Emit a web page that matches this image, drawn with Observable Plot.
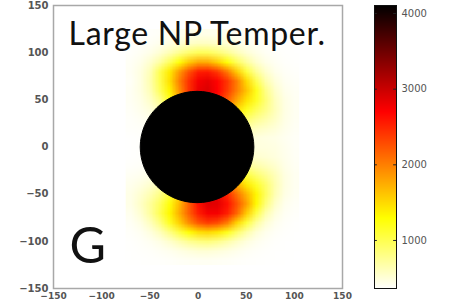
<!DOCTYPE html>
<html><head><meta charset="utf-8">
<script src="https://cdn.jsdelivr.net/npm/d3@7"></script>
<script src="https://cdn.jsdelivr.net/npm/@observablehq/plot@0.6"></script>
<style>
html,body{margin:0;padding:0;background:#fff;width:458px;height:302px;overflow:hidden;}
#wrap{position:relative;width:458px;height:302px;}
#main{position:absolute;left:0;top:0;}
#bar{position:absolute;left:360px;top:0;}
</style></head><body><div id="wrap"><div id="main"></div><div id="bar"></div></div>
<script>
// axis ticks
const axisTicks = [-150, -100, -50, 0, 50, 100, 150];
const colorTicks = [1000, 2000, 3000, 4000];
// sample grid (centres, data units)
const gridX = [-70, -60, -50, -40, -30, -20, -10, 0, 10, 20, 30, 40, 50, 60, 70, 80, 90, 100];
const gridY = [120, 110, 100, 90, 80, 70, 60, 50, 40, 30, 20, 10, 0, -10, -20, -30, -40, -50, -60, -70, -80, -90, -100, -110, -120];
// temperature, one row per gridY value
const tempRows = [
  [364,368,375,385,400,416,431,441,439,429,415,398,385,375,368,364,362,361],
  [370,377,396,425,464,516,560,588,584,555,507,464,424,395,380,370,365,362],
  [375,399,442,519,633,773,900,980,972,890,759,626,518,447,402,377,368,364],
  [392,438,537,700,957,1273,1584,1775,1763,1563,1272,966,727,547,449,399,373,366],
  [400,470,620,994,1395,1849,2253,2543,2566,2395,2035,1580,1076,744,544,435,389,374],
  [390,470,650,1000,1450,1984,2435,2760,2834,2688,2404,2008,1502,1005,664,492,408,384],
  [400,470,620,950,1350,1895,2426,2820,2900,2705,2377,1995,1620,1204,802,551,431,395],
  [400,450,560,780,1196,1704,2329,2820,2884,2612,2201,1788,1451,1166,863,594,454,405],
  [390,430,490,620,936,1426,2176,2820,2841,2410,1895,1485,1190,977,801,610,459,408],
  [380,400,430,490,676,1071,1910,2820,2729,2063,1485,1125,911,774,673,565,452,405],
  [375,381,393,416,475,676,1000,1000,1000,1485,1003,781,666,597,550,500,433,395],
  [365,370,372,373,382,1000,1000,1000,1000,1000,600,531,498,480,463,444,411,385],
  [365,370,372,372,372,1000,1000,1000,1000,1000,480,480,480,480,477,462,423,390],
  [365,370,373,375,388,1000,1000,1000,1000,1000,690,600,564,536,510,477,428,392],
  [375,385,397,421,477,650,1000,1000,1000,1760,1194,915,766,678,611,535,446,400],
  [399,420,452,513,650,975,1683,2617,2879,2360,1760,1342,1079,905,762,611,468,410],
  [426,471,537,650,865,1270,1923,2617,2910,2668,2197,1760,1418,1148,904,644,470,412],
  [447,529,639,805,1079,1505,2069,2617,2897,2816,2490,2084,1704,1339,946,626,455,405],
  [447,561,724,941,1252,1670,2166,2617,2877,2854,2622,2250,1824,1326,850,556,424,390],
  [424,526,713,990,1326,1731,2165,2538,2755,2752,2536,2141,1582,1049,668,480,401,378],
  [398,461,597,824,1168,1548,1933,2233,2378,2298,2023,1537,1089,727,521,423,382,368],
  [379,407,478,602,803,1051,1286,1466,1515,1431,1204,921,687,514,431,388,370,364],
  [368,382,408,457,537,642,750,811,836,779,677,569,482,424,389,370,365,362],
  [364,370,377,395,420,453,485,509,511,494,462,430,401,382,370,365,362,361],
  [362,364,367,372,380,388,396,401,403,398,390,380,372,366,363,362,361,360]
];
// nanoparticle outline
const npX = [58, 53.5, 40.7, 21.6, -1, -23.6, -42.7, -55.5, -60, -55.5, -42.7, -23.6, -1, 21.6, 40.7, 53.5];
const npY = [0, 22.6, 41.7, 54.5, 59, 54.5, 41.7, 22.6, 0, -22.6, -41.7, -54.5, -59, -54.5, -41.7, -22.6];
// colour bar range and flipped "hot" colormap stops
const colorExtent = [365, 4106];
const colorStops = [360, 1297, 2704, 4110];
const colorRange = ["#ffffff", "#ffff00", "#ff0000", "#000000"];
const titleText = ["Large NP Temper."];
const panelText = ["G"];

const color = {type: "linear", domain: colorStops, range: colorRange};
const half = (gridX[1] - gridX[0]) / 2;
const npData = npX.map((x, i) => ({x, y: npY[i]}));

const main = Plot.plot({
  width: 350, height: 310,
  marginLeft: 53, marginRight: 8, marginTop: 5, marginBottom: 22,
  style: {fontFamily: "DejaVu Sans", fontSize: "10px", color: "#555", background: "transparent", overflow: "visible"},
  x: {domain: [-150, 150], label: null},
  y: {domain: [-150, 150], label: null},
  color,
  marks: [
    Plot.raster(tempRows.flat(), {
      width: gridX.length, height: gridY.length,
      x1: gridX[0] - half, x2: gridX[gridX.length - 1] + half,
      y1: gridY[0] + half, y2: gridY[gridY.length - 1] - half,
      fill: Plot.identity
    }),
    Plot.line(npData, {x: "x", y: "y", curve: "catmull-rom-closed", fill: "black", stroke: "black", strokeWidth: 1}),
    Plot.frame({stroke: "#a8a8a8", strokeWidth: 1.5}),
    Plot.axisY({ticks: axisTicks, tickSize: 0, tickPadding: 5, dy: 0, fontWeight: "bold", label: null}),
    Plot.axisX({ticks: axisTicks, tickSize: 0, tickPadding: 4, fontSize: 9, fontWeight: "bold", label: null}),
    Plot.text(titleText, {text: d => d, frameAnchor: "top-left", dx: 15, dy: 17, lineAnchor: "top", textAnchor: "start", fontSize: 32, fontFamily: "Lato", fill: "#111"}),
    Plot.text(panelText, {text: d => d, frameAnchor: "top-left", dx: 16, dy: 222, lineAnchor: "top", textAnchor: "start", fontSize: 50, fontFamily: "Lato", fill: "#111"})
  ]
});
main.querySelectorAll("text").forEach(t => { if (t.textContent === titleText[0]) t.setAttribute("letter-spacing", "0.7"); });
document.getElementById("main").append(main);

const bar = Plot.plot({
  width: 98, height: 302,
  marginLeft: 14, marginRight: 62, marginTop: 5, marginBottom: 14,
  style: {fontFamily: "DejaVu Sans", fontSize: "10px", color: "#555", background: "transparent", overflow: "visible"},
  x: {domain: [0, 1], axis: null},
  y: {domain: colorExtent, axis: null},
  color,
  marks: [
    Plot.raster({fill: (x, y) => y, x1: 0, x2: 1, y1: colorExtent[0], y2: colorExtent[1]}),
    Plot.ruleY(colorTicks, {x1: 0, x2: 0.13, stroke: "#222"}),
    Plot.ruleY(colorTicks, {x1: 0.87, x2: 1, stroke: "#222"}),
    Plot.frame({stroke: "#111", strokeWidth: 1}),
    Plot.axisY({anchor: "right", ticks: colorTicks, tickSize: 0, tickPadding: 5, tickFormat: d3.format("d"), label: null})
  ]
});
document.getElementById("bar").append(bar);
</script></body></html>
